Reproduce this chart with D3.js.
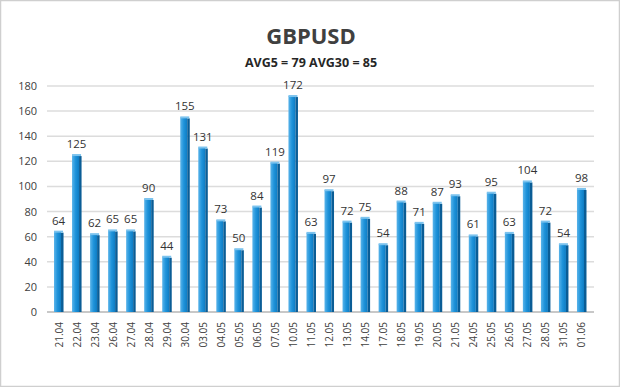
<!DOCTYPE html>
<html><head><meta charset="utf-8">
<script src="https://cdn.jsdelivr.net/npm/d3@7/dist/d3.min.js"></script>
<style>html,body{margin:0;padding:0;background:#fff;}svg{display:block;}</style>
</head><body>
<script>
const categories = ["21.04","22.04","23.04","26.04","27.04","28.04","29.04","30.04","03.05","04.05","05.05","06.05","07.05","10.05","11.05","12.05","13.05","14.05","17.05","18.05","19.05","20.05","21.05","24.05","25.05","26.05","27.05","28.05","31.05","01.06"];
const values = [64,125,62,65,65,90,44,155,131,73,50,84,119,172,63,97,72,75,54,88,71,87,93,61,95,63,104,72,54,98];
const yTicks = [0,20,40,60,80,100,120,140,160,180];
const title = "GBPUSD";
const subtitle = "AVG5 = 79 AVG30 = 85";

const W = 620, H = 387;
const svg = d3.select("body").append("svg").attr("width", W).attr("height", H);
const defs = svg.append("defs");
const g1 = defs.append("linearGradient").attr("id","barg").attr("x1","0").attr("x2","1").attr("y1","0").attr("y2","0");
g1.append("stop").attr("offset","0").attr("stop-color","#5ab4ea");
g1.append("stop").attr("offset","0.5").attr("stop-color","#1f93da");
g1.append("stop").attr("offset","1").attr("stop-color","#0d7cc4");

svg.append("rect").attr("x",0.5).attr("y",0.5).attr("width",W-1).attr("height",H-1)
  .attr("fill","#fff").attr("stroke","#cfcfcf").attr("stroke-width",1.5);

const font = "'Open Sans', 'DejaVu Sans', sans-serif";
svg.append("text").attr("x",311).attr("y",44).attr("text-anchor","middle")
  .attr("font-family",font).attr("font-weight","bold").attr("font-size",22).attr("fill","#404040").text(title);
svg.append("text").attr("x",311).attr("y",67).attr("text-anchor","middle")
  .attr("font-family",font).attr("font-weight","bold").attr("font-size",12.5).attr("fill","#262626").text(subtitle);

const x = d3.scaleBand().domain(categories).range([49.5, 590.5]).paddingInner(0.5).paddingOuter(0.25);
const y = d3.scaleLinear().domain([0,180]).range([312, 86]);

// gridlines
svg.append("g").selectAll("line").data(yTicks).join("line")
  .attr("x1",47).attr("x2",594).attr("y1",d=>y(d)).attr("y2",d=>y(d))
  .attr("stroke",d=>d===0?"#c8c8c8":"#dcdcdc").attr("stroke-width",d=>d===0?2:1.5);

// y axis labels
const yAxis = d3.axisLeft(y).tickValues(yTicks).tickSize(0).tickPadding(0);
const ya = svg.append("g").attr("transform","translate(37,0)").call(yAxis);
ya.select(".domain").remove();
ya.selectAll("text").attr("font-family",font).attr("font-size",11).attr("fill","#404040");

// bars
const bw = x.bandwidth();
const bars = svg.append("g").selectAll("g").data(values).join("g")
  .attr("transform",(d,i)=>`translate(${x(categories[i])},0)`);
bars.append("rect").attr("x",0).attr("y",d=>y(d)).attr("width",bw-2).attr("height",d=>y(0)-y(d)).attr("fill","url(#barg)");
bars.append("rect").attr("x",bw-2).attr("y",d=>y(d)+1).attr("width",2.5).attr("height",d=>y(0)-y(d)-1).attr("fill","#0a5d96");
bars.append("rect").attr("x",0).attr("y",d=>y(d)-1).attr("width",bw).attr("height",2).attr("fill","#7cc3ee");

// value labels
bars.append("text").attr("x",bw/2).attr("y",d=>y(d)-7).attr("text-anchor","middle")
  .attr("font-family",font).attr("font-size",11.5).attr("fill","#333").text(d=>d);

// x axis labels
const xAxis = d3.axisBottom(x).tickSize(0).tickPadding(0);
const xa = svg.append("g").attr("transform","translate(0,322)").call(xAxis);
xa.select(".domain").remove();
xa.selectAll("text").attr("font-family",font).attr("font-size",10).attr("fill","#404040")
  .attr("text-anchor","end").attr("transform","rotate(-90)").attr("dy","0.35em").attr("x",0).attr("y",0);
xa.selectAll(".tick").each(function(){
  const t = d3.select(this); const tr = t.attr("transform");
  const m = /translate\(([^,]+),/.exec(tr); const cx = +m[1];
  t.attr("transform",`translate(${cx+0.5},0)`);
});
</script>
</body></html>
